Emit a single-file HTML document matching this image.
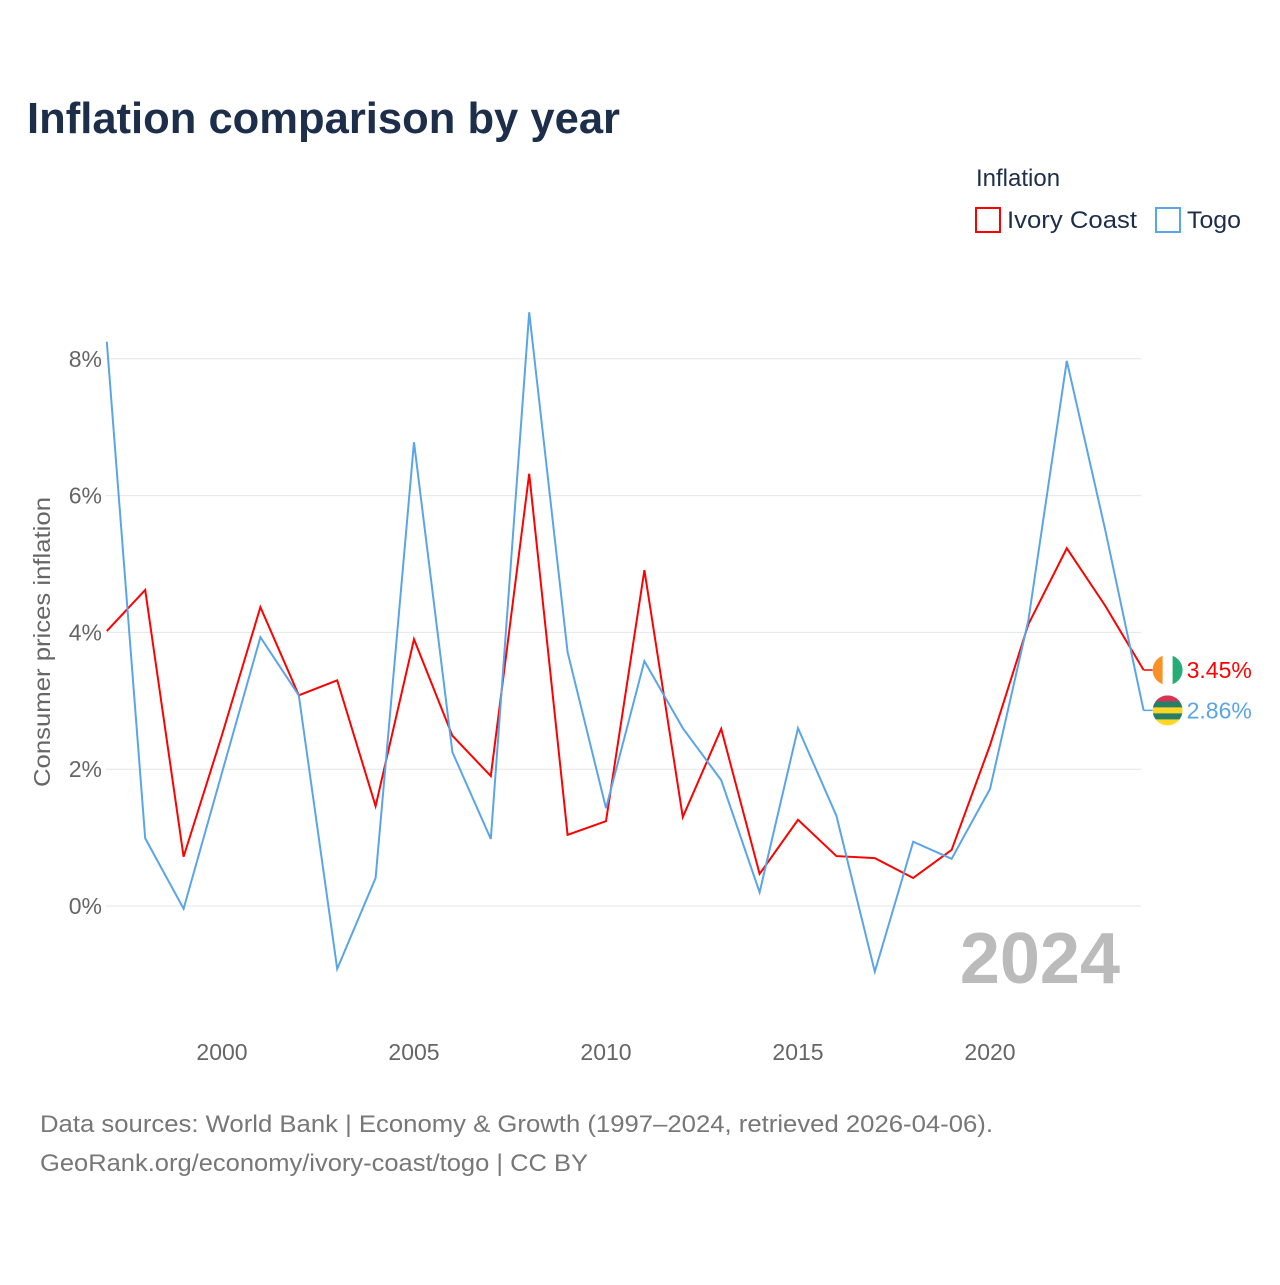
<!DOCTYPE html>
<html><head><meta charset="utf-8"><style>
body{margin:0;background:#fff;width:1280px;height:1280px;overflow:hidden;font-family:"Liberation Sans",sans-serif}
</style></head><body>
<svg id="chart" width="1280" height="1280" xmlns="http://www.w3.org/2000/svg">
<text x="27" y="133" font-size="44" font-weight="bold" fill="#1c2e4a" textLength="593" lengthAdjust="spacingAndGlyphs">Inflation comparison by year</text>
<text x="976" y="186" font-size="24" fill="#1c2e4a">Inflation</text>
<g><rect x="976" y="208" width="24" height="24" fill="none" stroke="#f00" stroke-width="2"/><text x="1007" y="228" font-size="24" fill="#1c2e4a" textLength="130" lengthAdjust="spacingAndGlyphs">Ivory Coast</text></g>
<g><rect x="1156" y="208" width="24" height="24" fill="none" stroke="#5aa5e8" stroke-width="2"/><text x="1187" y="228" font-size="24" fill="#1c2e4a" textLength="54" lengthAdjust="spacingAndGlyphs">Togo</text></g>
<g id="grid"></g><g id="yt"></g><g id="xt"></g>
<text transform="translate(50,642) rotate(-90)" text-anchor="middle" font-size="23" fill="#666" textLength="290" lengthAdjust="spacingAndGlyphs">Consumer prices inflation</text>
<text x="1120" y="983" text-anchor="end" font-size="72" font-weight="bold" fill="#bbb">2024</text>
<g id="lines"></g>
<text x="40" y="1132" font-size="24" fill="#777" textLength="953" lengthAdjust="spacingAndGlyphs">Data sources: World Bank | Economy &amp; Growth (1997–2024, retrieved 2026-04-06).</text>
<text x="40" y="1171" font-size="24" fill="#777" textLength="548" lengthAdjust="spacingAndGlyphs">GeoRank.org/economy/ivory-coast/togo | CC BY</text>
</svg>
<script>
const years=[1997,1998,1999,2000,2001,2002,2003,2004,2005,2006,2007,2008,2009,2010,2011,2012,2013,2014,2015,2016,2017,2018,2019,2020,2021,2022,2023,2024];
const ivoryCoast=[4.02,4.62,0.72,2.5,4.37,3.08,3.30,1.46,3.90,2.49,1.90,6.32,1.04,1.24,4.91,1.30,2.59,0.47,1.26,0.73,0.70,0.41,0.82,2.35,4.12,5.23,4.39,3.45];
const togo=[8.25,0.99,-0.04,1.95,3.93,3.08,-0.92,0.41,6.78,2.25,0.98,8.68,3.71,1.43,3.58,2.60,1.84,0.20,2.60,1.32,-0.96,0.94,0.69,1.71,4.18,7.97,5.5,2.86];
const yTicks=[0,2,4,6,8];
const xTicks=[2000,2005,2010,2015,2020];
const NS="http://www.w3.org/2000/svg";
const X=y=>106.8+(y-1997)*38.4;
const Y=v=>906-v*68.4;
function mk(tag,attrs,parent,txt){const e=document.createElementNS(NS,tag);for(const k in attrs)e.setAttribute(k,attrs[k]);if(txt!=null)e.textContent=txt;parent.appendChild(e);return e;}
const grid=document.getElementById('grid'),yt=document.getElementById('yt'),xt=document.getElementById('xt'),lines=document.getElementById('lines');
yTicks.forEach(t=>{
 const l=mk('line',{x1:106,x2:1141,y1:Y(t),y2:Y(t),stroke:'#e6e6e6','stroke-width':1},grid);
 
 
 const tx=mk('text',{x:102,y:Y(t)+8,'text-anchor':'end','font-size':23,fill:'#666'},yt,t+'%');
 
 
});
xTicks.forEach(t=>{
 const tx=mk('text',{x:X(t),y:1060,'text-anchor':'middle','font-size':23,fill:'#666'},xt,String(t));
 
 
});
function series(vals,color,name,flagColors,vertical){
 const pts=vals.map((v,i)=>X(years[i])+','+Y(v)).join(' ');
 const p=mk('polyline',{points:pts,fill:'none',stroke:color,'stroke-width':2},lines);
 
 
 const last=vals[vals.length-1],ly=Y(last),lx=X(years[years.length-1]);
 mk('line',{x1:lx,x2:lx+9,y1:ly,y2:ly,stroke:color,'stroke-width':1.5},lines);
 const cx=lx+24,r=15;
 const cid='clip-'+name;
 const cp=mk('clipPath',{id:cid},lines);
 mk('circle',{cx:cx,cy:ly,r:r},cp);
 const g=mk('g',{'clip-path':'url(#'+cid+')',opacity:0.85},lines);
 
 
 flagColors.forEach((fc,i)=>{
  const n=flagColors.length;
  if(vertical) mk('rect',{x:cx-r+i*2*r/n,y:ly-r,width:2*r/n+0.5,height:2*r,fill:fc},g);
  else mk('rect',{x:cx-r,y:ly-r+i*2*r/n,width:2*r,height:2*r/n+0.5,fill:fc},g);
 });
 const t=mk('text',{x:lx+43,y:ly+8,'font-size':23,fill:color},lines,last.toFixed(2)+'%');
 
 
}
series(ivoryCoast,'#f00','ivory-coast',['#f77f00','#ffffff','#009e60'],true);
series(togo,'#5aa5e8','togo',['#d21034','#006a4e','#ffce00','#006a4e','#ffce00'],false);
</script>
</body></html>
